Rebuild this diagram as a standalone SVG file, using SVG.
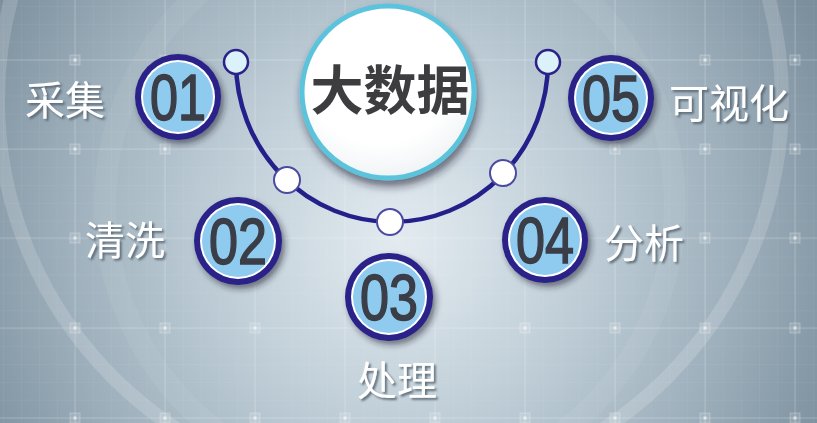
<svg xmlns="http://www.w3.org/2000/svg" width="817" height="423" viewBox="0 0 817 423">
<defs>
<radialGradient id="bg" cx="400" cy="240" r="470" gradientUnits="userSpaceOnUse">
<stop offset="0" stop-color="#e3ebf0"/>
<stop offset="0.35" stop-color="#c3d1da"/>
<stop offset="0.7" stop-color="#9fb1bd"/>
<stop offset="1" stop-color="#7c8f9d"/>
</radialGradient>
<radialGradient id="bigfill" cx="0.45" cy="0.35" r="0.75">
<stop offset="0.6" stop-color="#ffffff"/>
<stop offset="1" stop-color="#e9eef1"/>
</radialGradient>
<pattern id="minor" width="18" height="17.9" patternUnits="userSpaceOnUse" x="3" y="6">
<path d="M0 0H18M0 0V17.9" fill="none" stroke="#ffffff" stroke-opacity="0.08" stroke-width="1"/>
</pattern>
<filter id="shadow" x="-30%" y="-30%" width="160%" height="160%">
<feDropShadow dx="3" dy="4" stdDeviation="3" flood-color="#1c2430" flood-opacity="0.55"/>
</filter>
<filter id="bigshadow" x="-30%" y="-30%" width="160%" height="160%">
<feDropShadow dx="2" dy="6" stdDeviation="4" flood-color="#1c2430" flood-opacity="0.6"/>
</filter>
<filter id="tshadow" x="-20%" y="-20%" width="140%" height="140%">
<feDropShadow dx="2" dy="2" stdDeviation="0.8" flood-color="#556470" flood-opacity="0.9"/>
</filter>
<g id="marker">
<rect x="-5" y="-5" width="10" height="10" fill="#ffffff" fill-opacity="0.12" stroke="#ffffff" stroke-opacity="0.25" stroke-width="1"/>
<rect x="-1.5" y="-1.5" width="3" height="3" fill="#ffffff" fill-opacity="0.6"/>
</g>
</defs>
<style>
.grid{stroke:#ffffff;stroke-opacity:0.22;stroke-width:1;fill:none}
.ring{fill:none;stroke:#ffffff}
.num-outer{fill:#2a2189}
.num-white{fill:#ffffff}
.num-fill{fill:#8fcbee}
.num{font-family:"Liberation Sans",Arial,sans-serif;font-size:64px;fill:#3b3d47;stroke:#3b3d47;stroke-width:1.6;text-anchor:middle}
.label{font-family:"Noto Sans CJK SC","Noto Sans",sans-serif;font-size:40px;fill:#ffffff;filter:url(#tshadow)}
.title{font-family:"Noto Sans CJK SC","Noto Sans",sans-serif;font-size:53px;font-weight:bold;fill:#3d3d40;text-anchor:middle}
.arc{fill:none;stroke:#24208a;stroke-width:4.5}
.dot{fill:#ffffff;stroke:#4b4aa3;stroke-width:2}
.dot-top{fill:#dcf2fa;stroke:#2a2189;stroke-width:2.5}
</style>

<g id="background">
<rect width="817" height="423" fill="url(#bg)"/>
<rect width="817" height="423" fill="url(#minor)"/>
<circle class="ring" cx="390" cy="100" r="392" stroke-opacity="0.16" stroke-width="14"/>
<circle class="ring" cx="390" cy="205" r="285" stroke-opacity="0.06" stroke-width="22"/>
<g class="grid">
<path d="M75 0V423M165 0V423M255 0V423M345 0V423M435 0V423M525 0V423M615 0V423M705 0V423M795 0V423"/>
<path d="M0 60H817M0 149H817M0 238H817M0 328H817M0 418H817"/>
</g>
<g>
<use href="#marker" x="75" y="60"/><use href="#marker" x="165" y="60"/><use href="#marker" x="705" y="60"/><use href="#marker" x="795" y="60"/>
<use href="#marker" x="75" y="149"/><use href="#marker" x="165" y="149"/><use href="#marker" x="615" y="149"/><use href="#marker" x="705" y="149"/><use href="#marker" x="795" y="149"/>
<use href="#marker" x="75" y="238"/><use href="#marker" x="705" y="238"/><use href="#marker" x="795" y="238"/>
<use href="#marker" x="75" y="328"/><use href="#marker" x="165" y="328"/><use href="#marker" x="255" y="328"/><use href="#marker" x="525" y="328"/><use href="#marker" x="615" y="328"/><use href="#marker" x="705" y="328"/><use href="#marker" x="795" y="328"/>
<use href="#marker" x="75" y="418"/><use href="#marker" x="165" y="418"/><use href="#marker" x="255" y="418"/><use href="#marker" x="345" y="418"/><use href="#marker" x="435" y="418"/><use href="#marker" x="525" y="418"/><use href="#marker" x="615" y="418"/><use href="#marker" x="705" y="418"/><use href="#marker" x="795" y="418"/>
</g>
</g>

<g id="connectors">
<path class="arc" d="M236 62 A156 160 0 0 0 548 62"/>
<circle class="dot-top" cx="236" cy="62" r="12"/>
<circle class="dot" cx="287" cy="180" r="13"/>
<circle class="dot" cx="390" cy="222" r="13"/>
<circle class="dot" cx="503" cy="173" r="13"/>
<circle class="dot-top" cx="548" cy="62" r="12"/>
</g>

<g id="node-center">
<circle cx="388" cy="92" r="86" fill="url(#bigfill)" stroke="#5cc3dc" stroke-width="5" filter="url(#bigshadow)"/>
<text class="title" x="390" y="110">大数据</text>
</g>

<g id="node-01">
<g filter="url(#shadow)"><circle class="num-outer" cx="178" cy="97" r="43"/></g>
<circle class="num-white" cx="178" cy="97" r="37"/>
<circle class="num-fill" cx="178" cy="97" r="35"/>
<text class="num" x="178" y="120" textLength="56" lengthAdjust="spacingAndGlyphs">01</text>
<text class="label" x="25" y="115">采集</text>
</g>

<g id="node-02">
<g filter="url(#shadow)"><circle class="num-outer" cx="238" cy="241" r="44"/></g>
<circle class="num-white" cx="238" cy="241" r="38"/>
<circle class="num-fill" cx="238" cy="241" r="36"/>
<text class="num" x="238" y="264" textLength="58" lengthAdjust="spacingAndGlyphs">02</text>
<text class="label" x="85" y="255">清洗</text>
</g>

<g id="node-03">
<g filter="url(#shadow)"><circle class="num-outer" cx="389" cy="297" r="44"/></g>
<circle class="num-white" cx="389" cy="297" r="38"/>
<circle class="num-fill" cx="389" cy="297" r="36"/>
<text class="num" x="389" y="320" textLength="58" lengthAdjust="spacingAndGlyphs">03</text>
<text class="label" x="357" y="395">处理</text>
</g>

<g id="node-04">
<g filter="url(#shadow)"><circle class="num-outer" cx="545" cy="240" r="43"/></g>
<circle class="num-white" cx="545" cy="240" r="37"/>
<circle class="num-fill" cx="545" cy="240" r="35"/>
<text class="num" x="545" y="263" textLength="58" lengthAdjust="spacingAndGlyphs">04</text>
<text class="label" x="604" y="258">分析</text>
</g>

<g id="node-05">
<g filter="url(#shadow)"><circle class="num-outer" cx="611" cy="98" r="43"/></g>
<circle class="num-white" cx="611" cy="98" r="37"/>
<circle class="num-fill" cx="611" cy="98" r="35"/>
<text class="num" x="611" y="121" textLength="58" lengthAdjust="spacingAndGlyphs">05</text>
<text class="label" x="669" y="118">可视化</text>
</g>
</svg>
